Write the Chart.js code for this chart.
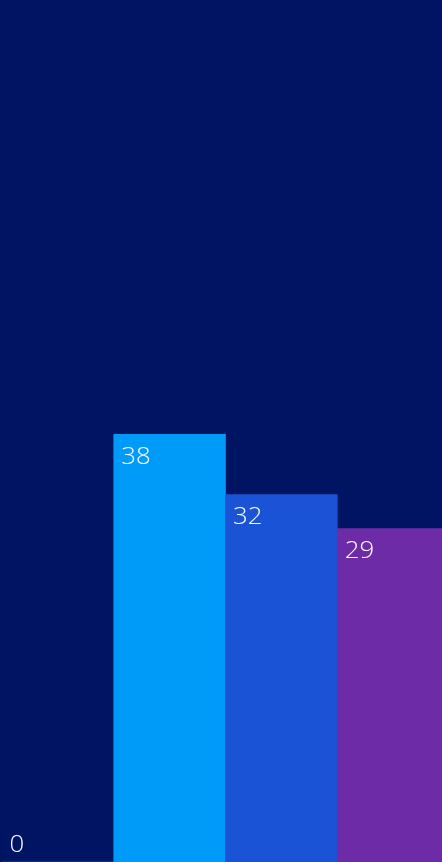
<!DOCTYPE html>
<html><head><meta charset="utf-8">
<script src="https://cdn.jsdelivr.net/npm/chart.js@4.4.1/dist/chart.umd.min.js"></script>
<style>
html,body{margin:0;padding:0;background:#001464;overflow:hidden;}
#wrap{position:absolute;left:2px;top:0;width:447px;height:862px;}
</style></head><body>
<div id="wrap"><canvas id="c"></canvas></div>
<script>
const categories = ["A", "B", "C", "D"];
const values = [0, 37.7, 32.4, 29.4];
const valueLabels = ["0", "38", "32", "29"];
const barColors = ["#0096F5", "#009BF8", "#1A53D5", "#6E2BA8"];
const yMax = 76;

const labelPlugin = {
  id: 'valLabels',
  afterDatasetsDraw(chart) {
    const ctx = chart.ctx;
    const meta = chart.getDatasetMeta(0);
    const bottom = chart.chartArea.bottom;
    ctx.save();
    ctx.fillStyle = '#ffffff';
    ctx.font = '300 23px "Open Sans"';
    ctx.textBaseline = 'alphabetic';
    ctx.textAlign = 'left';
    meta.data.forEach((bar, i) => {
      const left = bar.x - bar.width / 2;
      const top = Math.min(bar.y, bottom - 40);
      ctx.save();
      ctx.translate(left + 7.5, top + 29.5);
      ctx.scale(1.12, 1);
      ctx.fillText(valueLabels[i], 0, 0);
      ctx.restore();
    });
    ctx.restore();
  }
};

new Chart(document.getElementById('c'), {
  type: 'bar',
  data: {
    labels: categories,
    datasets: [{
      data: values,
      backgroundColor: barColors,
      borderWidth: 0,
      barPercentage: 1,
      categoryPercentage: 1
    }]
  },
  options: {
    responsive: true,
    maintainAspectRatio: false,
    animation: false,
    layout: { padding: 0 },
    plugins: { legend: { display: false }, tooltip: { enabled: false } },
    scales: {
      x: { display: false, grid: { display: false } },
      y: { display: false, min: 0, max: yMax, grid: { display: false } }
    }
  },
  plugins: [labelPlugin]
});
</script>
</body></html>
